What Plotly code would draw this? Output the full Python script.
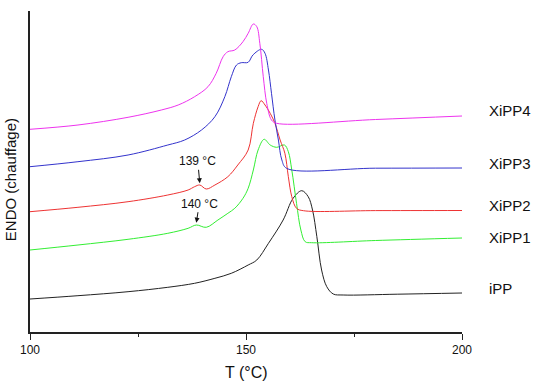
import plotly.graph_objects as go

# Temperature (°C) and heat-flow signal (arbitrary units, endo up)
T_iPP = [100, 111.1, 122.7, 131.9, 138.1, 142.8, 146.6, 150.5, 152.5, 155.2, 158.6, 160.9, 162.9, 164.4, 165.4, 166.4, 167.5, 168.7, 170.2, 172.5, 185, 200]
v_iPP = [33, 36.3, 40.3, 44.7, 48.7, 53.7, 58.7, 67, 72, 88.7, 112, 133.7, 141.3, 135.3, 122, 95.3, 62, 45.3, 38, 37, 37.8, 39]

T_X1 = [100, 111.1, 122.7, 131.9, 136.6, 138.5, 140.8, 143.5, 145.8, 147.4, 149.3, 150.5, 151.7, 152.8, 154.2, 155.6, 157.1, 158.9, 159.8, 160.6, 161.7, 162.7, 163.7, 165.2, 180, 200]
v_X1 = [82, 87, 92.7, 98.7, 103.7, 107, 104.7, 112, 118.7, 123.7, 133.7, 143.7, 162, 182, 192.7, 187, 184.7, 187, 180.3, 162, 128.7, 102, 90.3, 89.3, 91.5, 94]

T_X2 = [100, 111.1, 122.7, 131.9, 136.6, 138.1, 139.3, 140.8, 142.8, 145.8, 148.1, 150.5, 151.7, 152.8, 153.5, 154.4, 155.6, 156.7, 157.9, 159, 159.8, 160.6, 161.7, 163.3, 180, 200]
v_X2 = [120.3, 124.7, 130.3, 137, 142, 145.3, 147, 143, 147, 155.3, 167, 182, 208.7, 225.3, 231.3, 227, 218.7, 208.7, 192, 178.7, 155.3, 135.3, 123.7, 121.3, 121.4, 121.5]

T_X3 = [100, 111.1, 122.7, 131.9, 135.8, 139.7, 142.8, 145.1, 146.6, 147.8, 148.9, 150.5, 151.6, 153.6, 154.4, 155.2, 155.9, 156.7, 157.5, 158.3, 159.4, 180, 200]
v_X3 = [165.3, 170.3, 177, 187, 192, 202, 215.3, 235.3, 255.3, 267, 269.3, 269.7, 277, 282.7, 278.7, 262, 238.7, 212, 192, 172, 163.7, 163.8, 164]

T_X4 = [100, 111.1, 122.7, 130.4, 134.3, 138.1, 141.2, 143.1, 144.7, 145.8, 147.4, 149.3, 150.5, 151.7, 152.5, 153.2, 154.0, 154.8, 155.9, 157.1, 180, 200]
v_X4 = [202.7, 207, 214.7, 222, 227, 235.3, 245.3, 258.7, 275.3, 280.3, 282, 290.3, 298.7, 308, 305.3, 288.7, 255.3, 228.7, 212, 208.7, 212.5, 216]

names = ["iPP", "XiPP1", "XiPP2", "XiPP3", "XiPP4"]
label_y = [44, 95, 127, 169, 222]
colors = ["#222222", "#33ee33", "#ee3333", "#3333cc", "#ee33ee"]

FONT = "Liberation Sans, Arial"

fig = go.Figure()
series = [(T_iPP, v_iPP), (T_X1, v_X1), (T_X2, v_X2), (T_X3, v_X3), (T_X4, v_X4)]
for (t, v), n, c in zip(series, names, colors):
    fig.add_trace(go.Scatter(x=t, y=v, mode="lines", name=n,
                             line=dict(color=c, width=1, shape="spline", smoothing=1.0),
                             showlegend=False))

for n, yv in zip(names, label_y):
    fig.add_annotation(x=1.058, y=yv, xref="paper", yref="y", text=n, showarrow=False,
                       xanchor="left", yanchor="middle",
                       font=dict(family=FONT, size=15, color="#111111"))

# axis titles
fig.add_annotation(x=-0.046, y=0.4735, xref="paper", yref="paper", text="ENDO (chauffage)",
                   textangle=-90, showarrow=False, xanchor="center", yanchor="middle",
                   font=dict(family=FONT, size=15, color="#111111"))
fig.add_annotation(x=0.5, y=-0.1277, xref="paper", yref="paper", text="T (°C)",
                   showarrow=False, xanchor="center", yanchor="middle",
                   font=dict(family=FONT, size=16, color="#111111"))

# peak annotations
fig.add_annotation(x=139.3, y=148.7, text="139 °C", showarrow=True, ax=-2, ay=-22,
                   arrowhead=2, arrowsize=1, arrowwidth=1, arrowcolor="#111111",
                   font=dict(family=FONT, size=12, color="#111111"))
fig.add_annotation(x=138.5, y=109.3, text="140 °C", showarrow=True, ax=3, ay=-19,
                   arrowhead=2, arrowsize=1, arrowwidth=1, arrowcolor="#111111",
                   font=dict(family=FONT, size=12, color="#111111"))

fig.update_layout(
    width=535, height=386,
    margin=dict(l=30, r=73, t=11, b=54),
    plot_bgcolor="white", paper_bgcolor="white",
    font=dict(family=FONT, color="#111111"),
)
fig.update_xaxes(range=[100, 200], tickmode="array", tickvals=[100, 150, 200],
                 ticks="outside", ticklen=6, tickwidth=1, tickcolor="#222222",
                 showline=True, linecolor="#222222", linewidth=1.5, showgrid=False, zeroline=False,
                 tickfont=dict(size=12), automargin=False,
                 minor=dict(ticks="outside", ticklen=3, tickwidth=1, tickcolor="#222222", dtick=25, tick0=100, showgrid=False))
fig.update_yaxes(range=[0, 321], showticklabels=False, ticks="", showline=True, automargin=False,
                 linecolor="#222222", linewidth=1.5, showgrid=False, zeroline=False)

fig.write_html("out.html")
